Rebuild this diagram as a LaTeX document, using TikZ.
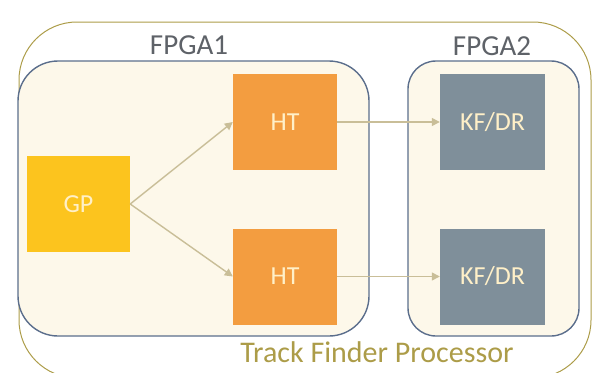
\documentclass[tikz,border=0pt]{standalone}
\usepackage{fontspec}
\setmainfont{Carlito}
\usetikzlibrary{arrows.meta}
\definecolor{gpyellow}{HTML}{FCC41E}
\definecolor{htorange}{HTML}{F39D40}
\definecolor{kfgray}{HTML}{7F8F9A}
\definecolor{fpgafill}{HTML}{FDF8EA}
\definecolor{fpgaline}{HTML}{5B6E8C}
\definecolor{tfpgold}{HTML}{AC9C48}
\definecolor{flowtan}{HTML}{C9BE98}
\definecolor{labelgray}{HTML}{5E6268}
\definecolor{boxtext}{HTML}{FFF0C8}

\begin{document}
\begin{tikzpicture}[x=1pt, y=-1pt,
    block/.style={minimum width=104pt, minimum height=96pt, inner sep=0pt,
      text=boxtext, font=\fontsize{26}{30}\selectfont},
    fpga/.style={draw=fpgaline, line width=1.4pt, fill=fpgafill},
    flow/.style={-{Triangle[length=8pt,width=8pt]}, flowtan, line width=1.4pt}]
  \useasboundingbox (0,0) rectangle (594,372);
  % processor board
  \draw[tfpgold, line width=1pt, rounded corners=58pt] (19,22) rectangle (591,378);
  \node[tfpgold, font=\fontsize{30}{34}\selectfont] (tfp) at (377,352) {Track Finder Processor};
  % the two FPGAs
  \draw[fpga, rounded corners=40pt] (18,61) rectangle (369,336);
  \draw[fpga, rounded corners=28pt] (408,61) rectangle (579,336);
  \node[labelgray, font=\fontsize{29}{33}\selectfont] (fpgaA) at (189,45) {FPGA1};
  \node[labelgray, font=\fontsize{29}{33}\selectfont] (fpgaB) at (492,46) {FPGA2};
  % processing blocks
  \node[block, fill=gpyellow, minimum width=103pt] (gp) at (78.5,204) {GP};
  \node[block, fill=htorange] (htA) at (285,122) {HT};
  \node[block, fill=htorange] (htB) at (285,276.5) {HT};
  \node[block, fill=kfgray, minimum width=105pt] (kfA) at (492.5,122) {KF/DR};
  \node[block, fill=kfgray, minimum width=105pt] (kfB) at (492.5,276.5) {KF/DR};
  % data flow
  \draw[flow] (gp.east) -- (htA.west);
  \draw[flow] (gp.east) -- (htB.west);
  \draw[flow] (htA.east) -- (kfA.west);
  \draw[flow] (htB.east) -- (kfB.west);
\end{tikzpicture}
\end{document}
